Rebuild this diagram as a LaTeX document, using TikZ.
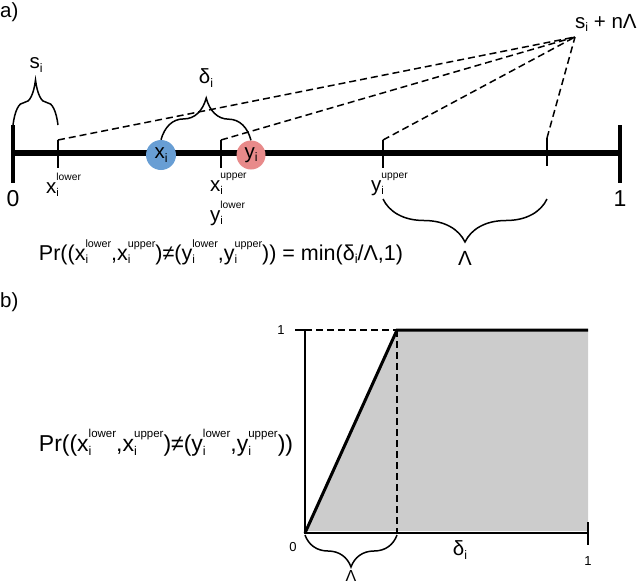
\documentclass[tikz,border=0pt]{standalone}
\usepackage{fontspec}
\usepackage{graphicx}
\setmainfont{Liberation Sans}
\usetikzlibrary{decorations.pathreplacing}

\definecolor{xblue}{RGB}{104,158,212}
\definecolor{yred}{RGB}{232,138,138}
\definecolor{areagray}{RGB}{204,204,204}

% letter with index i only, and with index i plus a bound
\newcommand{\sbi}[1]{#1\raisebox{-0.3ex}{\scalebox{0.6}{i}}}
\newcommand{\bnd}[2]{#1\rlap{\raisebox{-0.3ex}{\scalebox{0.55}{i}}}\raisebox{1.15ex}{\scalebox{0.5}{#2}}}

\begin{document}
\begin{tikzpicture}[x=1pt,y=-1pt,
    axis/.style={line width=6pt},
    endtick/.style={line width=4pt},
    tick/.style={line width=1.2pt},
    guide/.style={line width=1.5pt,dash pattern=on 7pt off 4pt},
    curly/.style={decorate,decoration={brace,amplitude=#1},line width=1.5pt},
    dot/.style={circle,minimum size=#1,inner sep=0pt},
    lbl/.style={font=\fontsize{20.5}{20.5}\selectfont,inner sep=0pt},
    small/.style={font=\fontsize{13}{13}\selectfont,inner sep=0pt}]
    \useasboundingbox (0,0) rectangle (640,584);

    % a) the line
    \node[lbl,anchor=west] (pa) at (0,12) {a)};
    \coordinate (zero) at (13,153);
    \coordinate (one) at (620,153);
    \draw[axis] (zero) -- (one);
    \draw[endtick] (13,125) -- (13,183);
    \draw[endtick] (620,125) -- (620,183);
    \node[lbl,font=\fontsize{23}{23}\selectfont] (l0) at (13,199) {0};
    \node[lbl,font=\fontsize{23}{23}\selectfont] (l1) at (620,199) {1};

    \coordinate (xlo) at (58,140);
    \coordinate (xup) at (221,140);
    \coordinate (yup) at (383,140);
    \coordinate (yend) at (547,138);
    \coordinate (apex) at (575,37);
    \foreach \t in {xlo,xup,yup,yend}
        \draw[tick] (\t) -- ++(0,28);
    \foreach \t in {xlo,xup,yup,yend}
        \draw[guide] (\t) -- (apex);

    \node[lbl,anchor=west] (top) at (575,23) {\sbi{s} + nΛ};
    \node[lbl,anchor=north west] (txlo) at (46,173) {\bnd{x}{lower}};
    \node[lbl,anchor=north west] (txup) at (210,173) {\bnd{x}{upper}};
    \node[lbl,anchor=north west] (tylo) at (210,201) {\bnd{y}{lower}};
    \node[lbl,anchor=north west] (tyup) at (371,173) {\bnd{y}{upper}};

    \node[dot=30pt,fill=xblue,lbl] (x) at (161,155) {\sbi{x}};
    \node[dot=29pt,fill=yred,lbl] (y) at (251,155) {\sbi{y}};

    % braces
    \draw[curly=45pt] (13,125) -- (58,125);
    \node[lbl] (si) at (36,65) {\sbi{s}};
    \draw[curly=42pt] (x.north) -- (y.north);
    \node[lbl] (di) at (206,78) {\sbi{δ}};
    \draw[curly=43pt] (547,199) -- (383,199);
    \node[lbl] (lam) at (465,258) {Λ};

    \node[lbl,font=\fontsize{21.5}{21.5}\selectfont] (pr) at (221,252)
        {Pr((\bnd{x}{lower},\bnd{x}{upper})≠(\bnd{y}{lower},\bnd{y}{upper})) = min(\sbi{δ}/Λ,1)};

    % b) the plot
    \node[lbl,anchor=west] (pb) at (0,302) {b)};
    \coordinate (o) at (305,533);
    \coordinate (ytop) at (305,330);
    \coordinate (xend) at (588,533);
    \coordinate (knee) at (397,330);
    \coordinate (flat) at (588,330);
    \fill[areagray] (o) -- (knee) -- (flat) -- (588,531) -- (305,531) -- cycle;
    \draw[line width=1.5pt] (ytop) -- (o) -- (xend);
    \draw[line width=1.5pt] (588,522) -- (588,545);
    \draw[line width=1.5pt] (295,330) -- (312,330);
    \draw[guide,line width=1.2pt] (ytop) -- (knee);
    \draw[guide,line width=1.2pt] (knee) -- (397,534);
    \draw[line width=3pt] (o) -- (knee) -- (flat);

    \node[small] (b1) at (281,330) {1};
    \node[small] (b0) at (293,547) {0};
    \node[small] (bx1) at (588,561) {1};
    \node[lbl] (bd) at (460,550) {\sbi{δ}};
    \draw[curly=32pt] (397,535) -- (305,535);
    \node[lbl,font=\fontsize{16}{16}\selectfont] (blam) at (351,576) {Λ};

    \node[lbl,font=\fontsize{23}{23}\selectfont] (ylab) at (166,443)
        {Pr((\bnd{x}{lower},\bnd{x}{upper})≠(\bnd{y}{lower},\bnd{y}{upper}))};
\end{tikzpicture}
\end{document}
